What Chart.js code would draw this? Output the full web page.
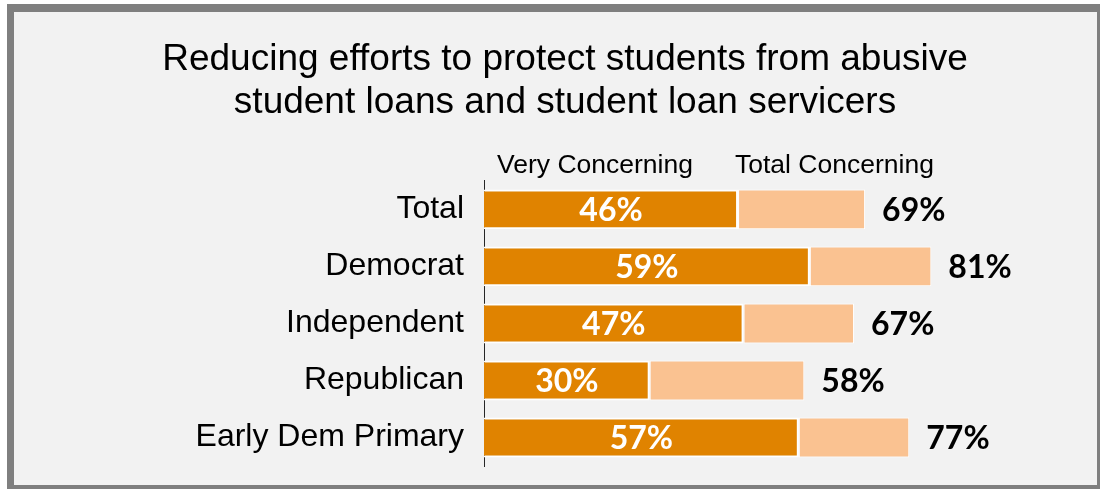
<!DOCTYPE html>
<html>
<head>
<meta charset="utf-8">
<script src="https://cdn.jsdelivr.net/npm/chart.js@4.4.1/dist/chart.umd.min.js"></script>
<style>
  html, body { margin: 0; padding: 0; background: #ffffff; }
  #wrap { width: 1100px; height: 489px; }
</style>
</head>
<body>
<div id="wrap"><canvas id="chart" width="1100" height="489"></canvas></div>
<script>
// Survey groups (rows, top to bottom)
const categories = ['Total', 'Democrat', 'Independent', 'Republican', 'Early Dem Primary'];
// Share answering "very concerning" (%)
const veryConcerning = [46, 59, 47, 30, 57];
// Share answering very or somewhat concerning (%)
const totalConcerning = [69, 81, 67, 58, 77];
const seriesNames = ['Very Concerning', 'Total Concerning'];
const titleLines = ['Reducing efforts to protect students from abusive', 'student loans and student loan servicers'];

const SANS = "'Liberation Sans', Arial, sans-serif";
const LABEL_FONT = "bold 32px Lato, 'Open Sans', sans-serif";
const DARK = '#E08300';
const LIGHT = '#FAC291';

// remainder stacked after the "very" part so the bar ends at the total
const remainder = totalConcerning.map((t, i) => t - veryConcerning[i]);

const framePlugin = {
  id: 'frame',
  beforeDraw(chart) {
    const { ctx, width, height } = chart;
    ctx.save();
    ctx.fillStyle = '#ffffff';
    ctx.fillRect(0, 0, width, height);
    ctx.fillStyle = '#7f7f7f';
    ctx.fillRect(7, 4, width - 7, height - 4);
    ctx.fillStyle = '#f2f2f2';
    ctx.fillRect(14, 12, width - 17, height - 16);
    ctx.restore();
  }
};

const headerPlugin = {
  id: 'headers',
  afterDraw(chart) {
    const { ctx, chartArea } = chart;
    ctx.save();
    ctx.font = '26.5px ' + SANS;
    ctx.fillStyle = '#000000';
    ctx.textAlign = 'left';
    ctx.textBaseline = 'middle';
    const y = chartArea.top - 15;
    ctx.fillText(seriesNames[0], chartArea.left + 13, y);
    ctx.fillText(seriesNames[1], chartArea.left + 251, y);
    ctx.restore();
  }
};

const valueLabelPlugin = {
  id: 'valueLabels',
  afterDatasetsDraw(chart) {
    const { ctx } = chart;
    const inner = chart.getDatasetMeta(0).data;
    const outer = chart.getDatasetMeta(1).data;
    ctx.save();
    ctx.font = LABEL_FONT;
    ctx.textBaseline = 'middle';
    inner.forEach((bar, i) => {
      const p = bar.getProps(['x', 'y', 'base'], true);
      ctx.fillStyle = '#ffffff';
      ctx.textAlign = 'center';
      ctx.fillText(veryConcerning[i] + '%', (p.x + p.base) / 2, p.y + 1);
    });
    outer.forEach((bar, i) => {
      const p = bar.getProps(['x', 'y'], true);
      ctx.fillStyle = '#000000';
      ctx.textAlign = 'left';
      ctx.fillText(totalConcerning[i] + '%', p.x + 17, p.y + 1);
    });
    ctx.restore();
  }
};

new Chart(document.getElementById('chart'), {
  type: 'bar',
  data: {
    labels: categories,
    datasets: [
      {
        label: seriesNames[0],
        data: veryConcerning,
        backgroundColor: DARK,
        borderColor: '#ffffff',
        borderWidth: 2,
        borderSkipped: 'start'
      },
      {
        label: seriesNames[1],
        data: remainder,
        backgroundColor: LIGHT,
        borderColor: '#ffffff',
        borderWidth: 1,
        borderSkipped: false
      }
    ]
  },
  options: {
    indexAxis: 'y',
    responsive: false,
    animation: false,
    devicePixelRatio: 1,
    datasets: { bar: { barPercentage: 0.7, categoryPercentage: 1.0 } },
    layout: { padding: { left: 44, right: 14, top: 0, bottom: 23 } },
    scales: {
      x: {
        stacked: true,
        min: 0,
        max: 109,
        display: false
      },
      y: {
        stacked: true,
        z: 1,
        grid: { display: false, drawTicks: false },
        border: { display: true, color: '#262626', width: 1 },
        ticks: {
          color: '#000000',
          font: { family: SANS, size: 32 },
          padding: 20
        },
        afterFit(scale) {
          scale.width = 440;
          scale.paddingTop = 0;
          scale.paddingBottom = 0;
        }
      }
    },
    plugins: {
      legend: { display: false },
      tooltip: { enabled: false },
      title: {
        display: true,
        text: titleLines,
        color: '#000000',
        font: { family: SANS, size: 37, weight: 'normal', lineHeight: 1.16 },
        padding: { top: 38, bottom: 57 }
      }
    }
  },
  plugins: [framePlugin, headerPlugin, valueLabelPlugin]
});
</script>
</body>
</html>
